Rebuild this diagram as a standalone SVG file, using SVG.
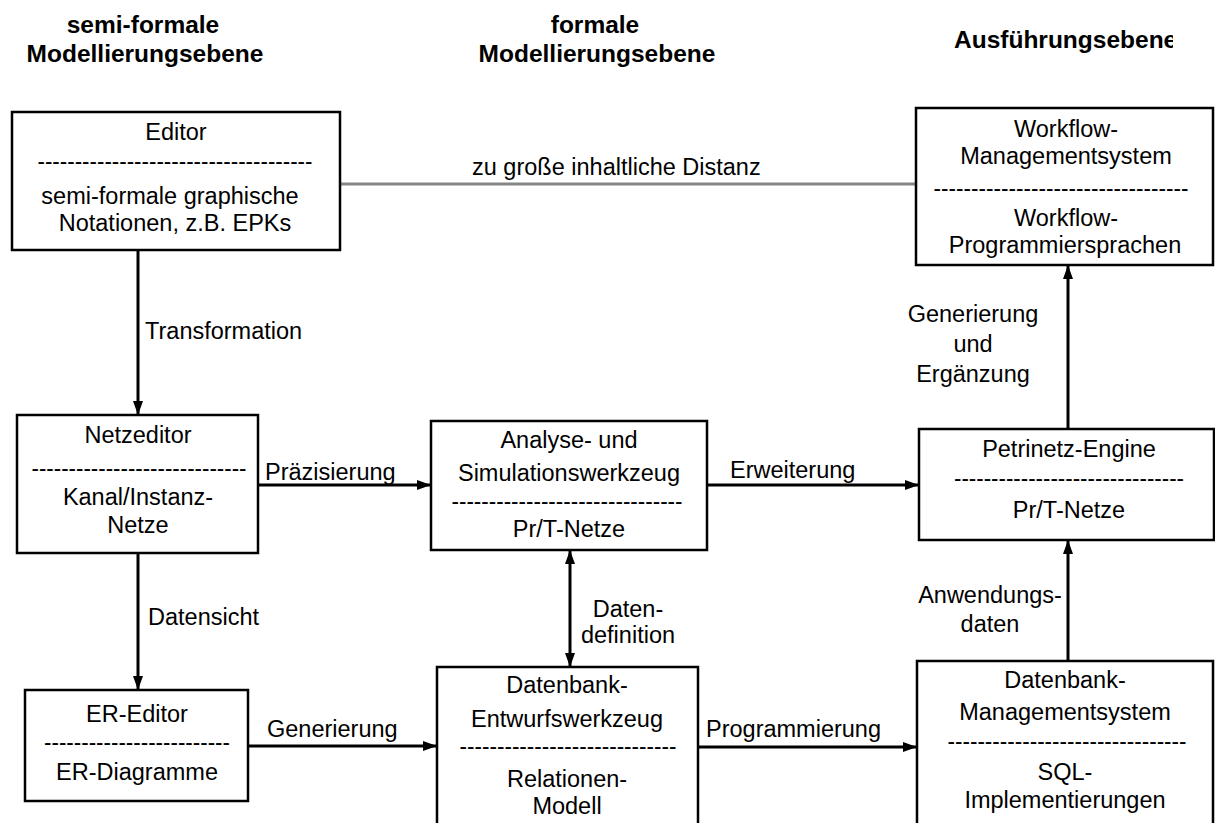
<svg xmlns="http://www.w3.org/2000/svg" width="1215" height="823" viewBox="0 0 1215 823">
<style>
text{font-family:"Liberation Sans",Arial,sans-serif;font-size:23.5px;fill:#000}
.h{font-weight:bold;font-size:24.5px}
.c{text-anchor:middle}
.box{fill:#fff;stroke:#000;stroke-width:2.5}
.ln{stroke:#000;stroke-width:3;fill:none}
.gray{stroke:#868686;stroke-width:2.8;fill:none}
</style>
<defs>
<marker id="ah" viewBox="0 0 14 10" refX="14" refY="5" markerWidth="14" markerHeight="10" markerUnits="userSpaceOnUse" orient="auto-start-reverse">
<path d="M0,0 L14,5 L0,10 z" fill="#000"/>
</marker>
<clipPath id="hc"><rect x="0" y="0" width="1173" height="823"/></clipPath>
</defs>
<rect width="1215" height="823" fill="#fff"/>
<g id="headers">
<text class="c h" x="143" y="33">semi-formale</text>
<text class="c h" x="145" y="62">Modellierungsebene</text>
<text class="c h" x="595" y="33">formale</text>
<text class="c h" x="597" y="62">Modellierungsebene</text>
<text class="h" x="954" y="48" clip-path="url(#hc)">Ausführungsebene</text>
</g>
<g id="connectors">
<line class="gray" x1="340" y1="184" x2="916" y2="184"/>
<text x="472" y="175">zu große inhaltliche Distanz</text>
<line class="ln" x1="138" y1="250" x2="138" y2="415" marker-end="url(#ah)"/>
<text x="145" y="339">Transformation</text>
<line class="ln" x1="258" y1="485" x2="431" y2="485" marker-end="url(#ah)"/>
<text x="265" y="480">Präzisierung</text>
<line class="ln" x1="707" y1="485" x2="919" y2="485" marker-end="url(#ah)"/>
<text x="730" y="478">Erweiterung</text>
<line class="ln" x1="1068" y1="429" x2="1068" y2="265" marker-end="url(#ah)"/>
<text class="c" x="973" y="322">Generierung</text>
<text class="c" x="973" y="352">und</text>
<text class="c" x="973" y="382">Ergänzung</text>
<line class="ln" x1="570" y1="550" x2="570" y2="667" marker-start="url(#ah)" marker-end="url(#ah)"/>
<text class="c" x="628" y="617">Daten-</text>
<text class="c" x="628" y="643">definition</text>
<line class="ln" x1="138" y1="553" x2="138" y2="690" marker-end="url(#ah)"/>
<text x="148" y="625">Datensicht</text>
<line class="ln" x1="248" y1="746" x2="437" y2="746" marker-end="url(#ah)"/>
<text x="267" y="737">Generierung</text>
<line class="ln" x1="698" y1="747" x2="917" y2="747" marker-end="url(#ah)"/>
<text x="706" y="737">Programmierung</text>
<line class="ln" x1="1068" y1="661" x2="1068" y2="540" marker-end="url(#ah)"/>
<text class="c" x="990" y="603">Anwendungs-</text>
<text class="c" x="990" y="632">daten</text>
</g>
<g id="editor">
<rect class="box" x="12" y="112" width="328" height="138"/>
<text class="c" x="176" y="140">Editor</text>
<text class="c" x="175" y="169" textLength="275" lengthAdjust="spacingAndGlyphs">-------------------------------------</text>
<text class="c" x="170" y="204">semi-formale graphische</text>
<text class="c" x="175" y="231">Notationen, z.B. EPKs</text>
</g>
<g id="workflow">
<rect class="box" x="916" y="108" width="297" height="157"/>
<text class="c" x="1066" y="137">Workflow-</text>
<text class="c" x="1066" y="164">Managementsystem</text>
<text class="c" x="1061" y="196" textLength="255" lengthAdjust="spacingAndGlyphs">----------------------------------</text>
<text class="c" x="1066" y="226">Workflow-</text>
<text class="c" x="1065" y="253">Programmiersprachen</text>
</g>
<g id="netzeditor">
<rect class="box" x="17" y="415" width="241" height="138"/>
<text class="c" x="138" y="443">Netzeditor</text>
<text class="c" x="139" y="476" textLength="215" lengthAdjust="spacingAndGlyphs">-----------------------------</text>
<text class="c" x="138" y="505">Kanal/Instanz-</text>
<text class="c" x="138" y="533">Netze</text>
</g>
<g id="analyse">
<rect class="box" x="431" y="421" width="276" height="129"/>
<text class="c" x="569" y="448">Analyse- und</text>
<text class="c" x="569" y="481">Simulationswerkzeug</text>
<text class="c" x="567" y="509" textLength="231" lengthAdjust="spacingAndGlyphs">-------------------------------</text>
<text class="c" x="569" y="537">Pr/T-Netze</text>
</g>
<g id="petrinetz">
<rect class="box" x="919" y="429" width="295" height="111"/>
<text class="c" x="1069" y="457">Petrinetz-Engine</text>
<text class="c" x="1069" y="486" textLength="230" lengthAdjust="spacingAndGlyphs">-------------------------------</text>
<text class="c" x="1069" y="518">Pr/T-Netze</text>
</g>
<g id="ereditor">
<rect class="box" x="25" y="690" width="223" height="111"/>
<text class="c" x="137" y="722">ER-Editor</text>
<text class="c" x="137" y="750" textLength="186" lengthAdjust="spacingAndGlyphs">-------------------------</text>
<text class="c" x="137" y="780">ER-Diagramme</text>
</g>
<g id="datenbankentwurf">
<rect class="box" x="437" y="667" width="261" height="170"/>
<text class="c" x="567" y="693">Datenbank-</text>
<text class="c" x="567" y="727">Entwurfswerkzeug</text>
<text class="c" x="568" y="754" textLength="217" lengthAdjust="spacingAndGlyphs">-----------------------------</text>
<text class="c" x="567" y="787">Relationen-</text>
<text class="c" x="567" y="814">Modell</text>
</g>
<g id="dbms">
<rect class="box" x="917" y="661" width="296" height="176"/>
<text class="c" x="1065" y="688">Datenbank-</text>
<text class="c" x="1065" y="720">Managementsystem</text>
<text class="c" x="1067" y="749" textLength="239" lengthAdjust="spacingAndGlyphs">--------------------------------</text>
<text class="c" x="1065" y="780">SQL-</text>
<text class="c" x="1065" y="808">Implementierungen</text>
</g>
</svg>
